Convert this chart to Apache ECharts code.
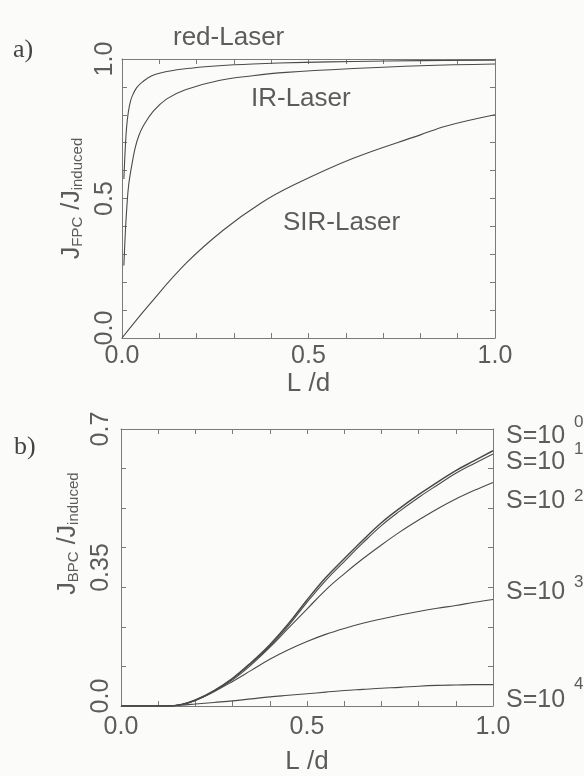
<!DOCTYPE html>
<html>
<head>
<meta charset="utf-8">
<script src="https://cdn.jsdelivr.net/npm/echarts@6.0.0/dist/echarts.min.js"></script>
<style>
  html, body { margin: 0; padding: 0; background: #fbfbf9; }
  #main { width: 584px; height: 776px; }
</style>
</head>
<body>
<div id="main"></div>
<script>
// panel a) J_FPC / J_induced vs L/d
var redX = [0.005, 0.008, 0.012, 0.017, 0.023, 0.03, 0.04, 0.055, 0.08, 0.12, 0.19, 0.26, 0.35, 0.49, 0.62, 0.8, 1.0];
var redY = [0.57, 0.66, 0.75, 0.81, 0.85, 0.875, 0.898, 0.918, 0.94, 0.955, 0.968, 0.976, 0.982, 0.988, 0.991, 0.994, 0.996];
var irX = [0.005, 0.009, 0.013, 0.018, 0.025, 0.035, 0.045, 0.057, 0.084, 0.12, 0.17, 0.26, 0.35, 0.44, 0.62, 0.8, 1.0];
var irY = [0.26, 0.38, 0.47, 0.55, 0.61, 0.68, 0.725, 0.76, 0.813, 0.857, 0.89, 0.923, 0.94, 0.952, 0.966, 0.976, 0.982];
var sirX = [0, 0.072, 0.172, 0.272, 0.372, 0.46, 0.62, 0.8, 0.87, 1.0];
var sirY = [0, 0.118, 0.268, 0.387, 0.483, 0.548, 0.644, 0.728, 0.76, 0.8];

// panel b) J_BPC / J_induced vs L/d for S = 10^0 .. 10^4
var xB = [0, 0.12, 0.16, 0.2, 0.25, 0.3, 0.35, 0.4, 0.45, 0.5, 0.55, 0.6, 0.65, 0.7, 0.75, 0.8, 0.85, 0.9, 0.95, 1.0];
var s0 = [0, 0, 0.003, 0.015, 0.039, 0.07, 0.11, 0.155, 0.208, 0.268, 0.324, 0.372, 0.419, 0.463, 0.5, 0.534, 0.565, 0.595, 0.62, 0.645];
var s1 = [0, 0, 0.003, 0.015, 0.038, 0.069, 0.108, 0.151, 0.203, 0.262, 0.317, 0.365, 0.412, 0.456, 0.493, 0.527, 0.558, 0.588, 0.613, 0.637];
var s2 = [0, 0, 0.003, 0.014, 0.037, 0.066, 0.104, 0.148, 0.197, 0.245, 0.293, 0.334, 0.372, 0.407, 0.44, 0.47, 0.498, 0.523, 0.545, 0.565];
var s3 = [0, 0, 0.003, 0.014, 0.036, 0.062, 0.09, 0.118, 0.142, 0.163, 0.181, 0.196, 0.209, 0.22, 0.23, 0.239, 0.247, 0.254, 0.262, 0.269];
var s4 = [0, 0, 0.002, 0.005, 0.009, 0.013, 0.018, 0.023, 0.027, 0.031, 0.035, 0.039, 0.042, 0.045, 0.047, 0.05, 0.052, 0.053, 0.054, 0.054];
var sExp = ['0', '1', '2', '3', '4'];

var xTickLabels = ['0.0', '0.5', '1.0'];
var yTickLabelsA = ['0.0', '0.5', '1.0'];
var yTickLabelsB = ['0.0', '0.35', '0.7'];

var gray = '#5c5c5c';
var frame = '#7a7a7a';
var curve = '#4a4a4a';
var font = 'Liberation Sans';

function zip(xs, ys) {
    return xs.map(function (x, i) { return [x, ys[i]]; });
}

function pick(labels, values) {
    return function (v) {
        for (var i = 0; i < values.length; i++) {
            if (Math.abs(v - values[i]) < 1e-6) return labels[i];
        }
        return '';
    };
}

function tickAxis(grid, pos, max, extra) {
    var ax = {
        type: 'value', gridIndex: grid, position: pos,
        min: 0, max: max, interval: 0.1,
        axisLine: { show: true, onZero: false, lineStyle: { color: frame, width: 1 } },
        axisTick: { show: true, inside: true, length: 5, lineStyle: { color: frame, width: 1 } },
        axisLabel: { show: false },
        splitLine: { show: false }
    };
    return Object.assign(ax, extra || {});
}

var xLabel = function (margin) {
    return { show: true, margin: margin, fontSize: 25, color: gray, fontFamily: font,
             formatter: pick(xTickLabels, [0, 0.5, 1]) };
};

var yName = function (pad) {
    return {
        color: gray, fontFamily: font,
        padding: pad,
        rich: {
            J: { fontSize: 25, color: gray, fontFamily: font, lineHeight: 26, verticalAlign: 'bottom' },
            s: { fontSize: 15, color: gray, fontFamily: font, lineHeight: 20, verticalAlign: 'bottom' }
        }
    };
};

var lineSeries = function (name, data, xi, yi, w) {
    return {
        name: name, type: 'line', data: data,
        xAxisIndex: xi, yAxisIndex: yi,
        showSymbol: false, smooth: 0.4,
        lineStyle: { color: curve, width: w || 1.1 },
        silent: true
    };
};

var sLabels = [];
var sRows = [436, 462, 501, 592, 700];
var sSup = [422, 449, 496, 582, 684];
sExp.forEach(function (e, i) {
    sLabels.push({ type: 'text', x: 506, y: sRows[i],
        style: { text: 'S=10', fontSize: 25, fontFamily: font, fill: gray, verticalAlign: 'middle' } });
    sLabels.push({ type: 'text', x: 574, y: sSup[i],
        style: { text: e, fontSize: 17, fontFamily: font, fill: gray, verticalAlign: 'middle' } });
});

var option = {
    backgroundColor: '#fbfbf9',
    animation: false,
    grid: [
        { left: 122, top: 59, width: 373, height: 279 },
        { left: 121, top: 429, width: 372, height: 278 }
    ],
    xAxis: [
        tickAxis(0, 'bottom', 1, {
            axisLabel: xLabel(6),
            name: 'L /d', nameLocation: 'middle', nameGap: 33,
            nameTextStyle: { fontSize: 26, color: gray, fontFamily: font }
        }),
        tickAxis(0, 'top', 1),
        tickAxis(1, 'bottom', 1, {
            axisLabel: xLabel(9),
            name: 'L /d', nameLocation: 'middle', nameGap: 43,
            nameTextStyle: { fontSize: 26, color: gray, fontFamily: font }
        }),
        tickAxis(1, 'top', 1)
    ],
    yAxis: [
        tickAxis(0, 'left', 1, {
            axisLabel: {
                show: true, rotate: 90, margin: 4, fontSize: 25, color: gray, fontFamily: font,
                formatter: function (v) {
                    var t = pick(yTickLabelsA, [0, 0.5, 1])(v);
                    return Math.abs(v) < 1e-6 ? '{z|' + t + '}' : t;
                },
                rich: { z: { fontSize: 25, color: gray, fontFamily: font, padding: [0, 0, 0, 20] } }
            },
            name: '{J|J}{s|FPC}{J| /J}{s|induced}', nameLocation: 'middle', nameGap: 30,
            nameTextStyle: yName()
        }),
        tickAxis(0, 'right', 1),
        tickAxis(1, 'left', 0.7),
        tickAxis(1, 'right', 0.7),
        {
            type: 'value', gridIndex: 1, position: 'left',
            min: 0, max: 0.7, interval: 0.35,
            axisLine: { show: false }, axisTick: { show: false }, splitLine: { show: false },
            axisLabel: {
                show: true, rotate: 90, margin: 7, fontSize: 25, color: gray, fontFamily: font,
                formatter: function (v) {
                    var t = pick(yTickLabelsB, [0, 0.35, 0.7])(v);
                    return Math.abs(v) < 1e-6 ? '{z|' + t + '}' : t;
                },
                rich: { z: { fontSize: 25, color: gray, fontFamily: font, padding: [0, 0, 0, 20] } }
            },
            name: '{J|J}{s|BPC}{J| /J}{s|induced}', nameLocation: 'middle', nameGap: 31,
            nameTextStyle: yName([0, 0, 0, 68])
        }
    ],
    series: [
        lineSeries('red-Laser', zip(redX, redY), 0, 0),
        lineSeries('IR-Laser', zip(irX, irY), 0, 0),
        lineSeries('SIR-Laser', zip(sirX, sirY), 0, 0),
        lineSeries('S=10^0', zip(xB, s0), 2, 2, 1.5),
        lineSeries('S=10^1', zip(xB, s1), 2, 2),
        lineSeries('S=10^2', zip(xB, s2), 2, 2),
        lineSeries('S=10^3', zip(xB, s3), 2, 2),
        lineSeries('S=10^4', zip(xB, s4), 2, 2)
    ],
    graphic: [
        { type: 'text', x: 13, y: 50, style: { text: 'a)', fontSize: 26, fontFamily: 'Liberation Serif', fill: '#444', verticalAlign: 'middle' } },
        { type: 'text', x: 14, y: 447, style: { text: 'b)', fontSize: 26, fontFamily: 'Liberation Serif', fill: '#444', verticalAlign: 'middle' } },
        { type: 'text', x: 173, y: 38, style: { text: 'red-Laser', fontSize: 26, fontFamily: font, fill: gray, verticalAlign: 'middle' } },
        { type: 'text', x: 251, y: 99, style: { text: 'IR-Laser', fontSize: 26, fontFamily: font, fill: gray, verticalAlign: 'middle' } },
        { type: 'text', x: 283, y: 223, style: { text: 'SIR-Laser', fontSize: 26, fontFamily: font, fill: gray, verticalAlign: 'middle' } }
    ].concat(sLabels)
};

var myChart = echarts.init(document.getElementById('main'));
myChart.setOption(option);
</script>
</body>
</html>
